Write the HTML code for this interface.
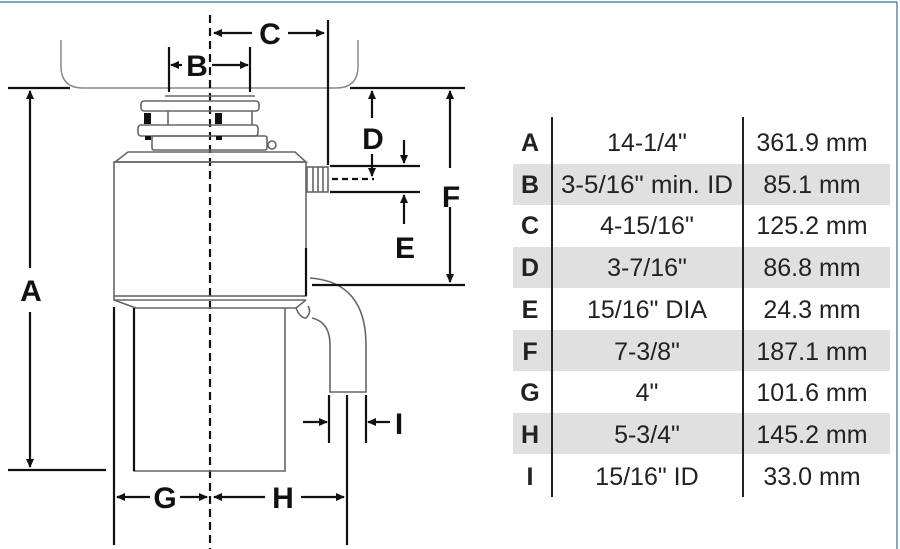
<!DOCTYPE html>
<html><head><meta charset="utf-8"><style>
html,body{margin:0;padding:0;background:#fff;}
svg{display:block;}
text{font-family:"Liberation Sans",Arial,sans-serif;}
</style></head><body>
<svg width="900" height="549" viewBox="0 0 900 549" xmlns="http://www.w3.org/2000/svg">
<defs>
<marker id="ah" markerWidth="9" markerHeight="9" refX="8" refY="4.5" orient="auto" markerUnits="userSpaceOnUse">
<path d="M0,0.5 L9,4.5 L0,8.5 Z" fill="#111"/></marker>
</defs>
<line x1="0" y1="2" x2="897" y2="2" stroke="#3a6d8f" stroke-width="1.2"/>
<line x1="897" y1="2" x2="897" y2="549" stroke="#3a6d8f" stroke-width="1.2"/>

<g fill="none" stroke="#111" stroke-linecap="butt">
<path d="M61,40 L61,66 Q61,88 83,88 L336,88 Q358,88 358,66 L358,40" stroke="#888" stroke-width="1.5"/>
<line x1="210" y1="15" x2="210" y2="549" stroke-width="2.2" stroke-dasharray="8,5"/>
<line x1="328" y1="20" x2="328" y2="165" stroke-width="2.2"/>
<line x1="252" y1="33" x2="214" y2="33" stroke-width="2.2" marker-end="url(#ah)"/>
<line x1="288" y1="33" x2="324" y2="33" stroke-width="2.2" marker-end="url(#ah)"/>
<line x1="169" y1="47" x2="169" y2="92" stroke-width="2.2"/>
<line x1="250" y1="47" x2="250" y2="92" stroke-width="2.2"/>
<line x1="182" y1="65" x2="171" y2="65" stroke-width="2.2" marker-end="url(#ah)"/>
<line x1="212" y1="65" x2="248" y2="65" stroke-width="2.2" marker-end="url(#ah)"/>
<line x1="8" y1="88" x2="70" y2="88" stroke-width="2.2"/>
<line x1="8" y1="470" x2="106" y2="470" stroke-width="2.2"/>
<line x1="30" y1="268" x2="30" y2="91" stroke-width="2.2" marker-end="url(#ah)"/>
<line x1="30" y1="312" x2="30" y2="467" stroke-width="2.2" marker-end="url(#ah)"/>
<g stroke="#666" stroke-width="1.6">
<rect x="141" y="101" width="118" height="10" rx="3"/>
<rect x="138" y="125" width="120" height="11" rx="3"/>
<rect x="152" y="136" width="115" height="14" rx="2"/>
<line x1="165" y1="96" x2="255" y2="96"/>
<line x1="168" y1="111" x2="168" y2="125"/><line x1="252" y1="111" x2="252" y2="125"/>
<circle cx="272" cy="145" r="4"/>
<path d="M115,162 L128,152 L295,152 L306,162 Z"/>
</g>
<rect x="144" y="113" width="7" height="11" fill="#111" stroke="none"/>
<rect x="215" y="113" width="7" height="11" fill="#111" stroke="none"/>
<rect x="145" y="136" width="6" height="4" fill="#111" stroke="none"/>
<rect x="216" y="136" width="6" height="4" fill="#111" stroke="none"/>
<g stroke="#666" stroke-width="1.6">
<rect x="114" y="162" width="192" height="134"/>
<line x1="114" y1="300" x2="306" y2="300"/>
<path d="M114,296 L114,300 L136,308 L296,308 L306,300"/>
<path d="M134,308 L134,471 L285,471 L285,308"/>
<rect x="307" y="167" width="21" height="25"/>
<line x1="313" y1="167" x2="313" y2="192"/><line x1="318" y1="167" x2="318" y2="192"/><line x1="323" y1="167" x2="323" y2="192"/>
<path d="M310,278 Q366,282 366,345 L366,392 L330,392 L330,345 Q330,322 312,318"/>
<path d="M296,308 Q300,318 306,318 Q312,312 308,306"/>
</g>
<line x1="306" y1="248" x2="306" y2="296" stroke-width="2.2"/>
<line x1="114" y1="307" x2="114" y2="545" stroke-width="2.2"/>
<line x1="134" y1="308" x2="134" y2="471" stroke-width="2.2"/>
<line x1="350" y1="88" x2="465" y2="88" stroke-width="2.2"/>
<line x1="330" y1="166" x2="420" y2="166" stroke-width="2.2"/>
<line x1="330" y1="192" x2="420" y2="192" stroke-width="2.2"/>
<line x1="312" y1="285" x2="465" y2="285" stroke-width="2.2"/>
<line x1="332" y1="179" x2="374" y2="179" stroke-width="2.2" stroke-dasharray="6,4"/>
<line x1="450" y1="168" x2="450" y2="91" stroke-width="2.2" marker-end="url(#ah)"/>
<line x1="450" y1="207" x2="450" y2="282" stroke-width="2.2" marker-end="url(#ah)"/>
<line x1="372" y1="118" x2="372" y2="91" stroke-width="2.2" marker-end="url(#ah)"/>
<line x1="372" y1="154" x2="372" y2="176" stroke-width="2.2" marker-end="url(#ah)"/>
<line x1="404" y1="140" x2="404" y2="163" stroke-width="2.2" marker-end="url(#ah)"/>
<line x1="404" y1="224" x2="404" y2="195" stroke-width="2.2" marker-end="url(#ah)"/>
<line x1="329" y1="395" x2="329" y2="443" stroke-width="2.2"/>
<line x1="347" y1="395" x2="347" y2="545" stroke-width="2.2"/>
<line x1="366" y1="395" x2="366" y2="443" stroke-width="2.2"/>
<line x1="303" y1="422" x2="327" y2="422" stroke-width="2.2" marker-end="url(#ah)"/>
<line x1="390" y1="422" x2="368" y2="422" stroke-width="2.2" marker-end="url(#ah)"/>
<line x1="150" y1="497" x2="117" y2="497" stroke-width="2.2" marker-end="url(#ah)"/>
<line x1="180" y1="497" x2="207" y2="497" stroke-width="2.2" marker-end="url(#ah)"/>
<line x1="265" y1="497" x2="214" y2="497" stroke-width="2.2" marker-end="url(#ah)"/>
<line x1="301" y1="497" x2="344" y2="497" stroke-width="2.2" marker-end="url(#ah)"/>
</g>
<g font-weight="bold" font-size="30" fill="#111" text-anchor="middle">
<text x="270" y="44">C</text>
<text x="197" y="76">B</text>
<text x="31" y="301">A</text>
<text x="373" y="149">D</text>
<text x="405" y="258">E</text>
<text x="451" y="207">F</text>
<text x="399" y="434">I</text>
<text x="165" y="508">G</text>
<text x="283" y="508">H</text>
</g>

<g fill="#e0e0e0">
<rect x="513" y="164" width="377" height="41"/>
<rect x="513" y="247" width="377" height="41"/>
<rect x="513" y="330" width="377" height="41"/>
<rect x="513" y="413" width="377" height="41"/>
</g>
<line x1="552" y1="117" x2="552" y2="497" stroke="#222" stroke-width="2"/>
<line x1="743" y1="117" x2="743" y2="497" stroke="#222" stroke-width="2"/>
<g font-size="25" fill="#222" dominant-baseline="central">
<g font-weight="bold" text-anchor="middle">
<text x="530" y="143">A</text><text x="530" y="185">B</text><text x="530" y="226">C</text>
<text x="530" y="268">D</text><text x="530" y="310">E</text><text x="530" y="352">F</text>
<text x="530" y="393">G</text><text x="530" y="435">H</text><text x="530" y="477">I</text>
</g>
<g text-anchor="middle">
<text x="647" y="143">14-1/4"</text><text x="647" y="185" textLength="172" lengthAdjust="spacingAndGlyphs">3-5/16" min. ID</text><text x="647" y="226">4-15/16"</text>
<text x="647" y="268">3-7/16"</text><text x="647" y="310">15/16" DIA</text><text x="647" y="352">7-3/8"</text>
<text x="647" y="393">4"</text><text x="647" y="435">5-3/4"</text><text x="647" y="477">15/16" ID</text>
<text x="812" y="143">361.9 mm</text><text x="812" y="185">85.1 mm</text><text x="812" y="226">125.2 mm</text>
<text x="812" y="268">86.8 mm</text><text x="812" y="310">24.3 mm</text><text x="812" y="352">187.1 mm</text>
<text x="812" y="393">101.6 mm</text><text x="812" y="435">145.2 mm</text><text x="812" y="477">33.0 mm</text>
</g>
</g>
</svg>
</body></html>
